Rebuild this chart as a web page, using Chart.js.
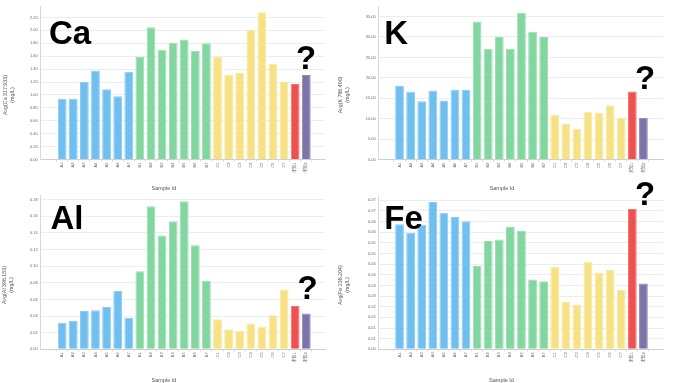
<!DOCTYPE html>
<html>
<head>
<meta charset="utf-8">
<script src="https://cdn.jsdelivr.net/npm/chart.js@4/dist/chart.umd.min.js"></script>
<style>
  html, body { margin: 0; padding: 0; background: #fff; }
  #wrap { position: relative; width: 680px; height: 383px; overflow: hidden; background: #fff; }
  canvas { position: absolute; }
  .big { position: absolute; font-family: 'Liberation Sans', Arial, sans-serif; font-weight: bold;
         font-size: 33px; line-height: 33px; color: #000; white-space: nowrap; z-index: 5; }
  .ytitle { position: absolute; font-family: 'Liberation Sans', 'Noto Sans CJK JP', sans-serif; font-size: 5.3px;
            line-height: 6.8px; color: #555; white-space: nowrap; text-align: center;
            transform: translate(-50%, -50%) rotate(-90deg); }
  .xtitle { position: absolute; font-family: 'Liberation Sans', sans-serif; font-size: 5.5px; line-height: 6px;
            color: #555; white-space: nowrap; transform: translate(-50%, -50%); }
</style>
</head>
<body>
<div id="wrap"></div>
<script>
// ---- data ----
const sampleIds = ['A1','A2','A3','A4','A5','A6','A7',
                   'B1','B2','B3','B4','B5','B6','B7',
                   'C1','C2','C3','C4','C5','C6','C7',
                   '未知1','未知2'];
const sampleGroups = ['A','A','A','A','A','A','A',
                      'B','B','B','B','B','B','B',
                      'C','C','C','C','C','C','C',
                      'U1','U2'];

const caValues = [0.94,0.94,1.20,1.38,1.09,0.98,1.36,
                  1.59,2.05,1.70,1.81,1.86,1.68,1.80,
                  1.59,1.31,1.34,2.01,2.28,1.48,1.20,
                  1.17,1.31];
const kValues  = [18.0,16.6,14.3,16.9,14.5,17.1,17.1,
                  33.8,27.1,30.0,27.1,35.9,31.3,30.0,
                  11.0,8.8,7.5,11.7,11.4,13.3,10.2,
                  16.7,10.2];
const alValues = [0.032,0.034,0.046,0.047,0.051,0.070,0.038,
                  0.094,0.172,0.137,0.154,0.178,0.125,0.082,
                  0.036,0.024,0.022,0.031,0.027,0.041,0.072,
                  0.052,0.043];
const feValues = [0.0588,0.0548,0.0585,0.0692,0.0642,0.0622,0.0602,
                  0.0391,0.0509,0.0516,0.0575,0.0556,0.0328,0.0320,
                  0.0388,0.0223,0.0208,0.0411,0.0359,0.0372,0.0280,
                  0.0659,0.0309];

const caTickLabels = ['0.00','0.20','0.40','0.60','0.80','1.00','1.20','1.40','1.60','1.80','2.00','2.20'];
const kTickLabels  = ['0.00','5.00','10.00','15.00','20.00','25.00','30.00','35.00'];
const alTickLabels = ['0.00','0.02','0.04','0.06','0.08','0.10','0.12','0.14','0.16','0.18'];
const feTickValues = [0,0.005,0.01,0.015,0.02,0.025,0.03,0.035,0.04,0.045,0.05,0.055,0.06,0.065,0.07];
const feTickLabels = ['0.00','0.01','0.01','0.02','0.02','0.03','0.03','0.04','0.04','0.05','0.05','0.06','0.06','0.07','0.07'];

const yTitles = ['Avg(Ca 317.933)', 'Avg(K 766.490)', 'Avg(Al 396.153)', 'Avg(Fe 238.204)'];
const yUnit = '(mg/L)';
const xTitle = 'Sample Id';

// ---- styles ----
const groupFill = { A: '#6fbff1', B: '#82d69f', C: '#f6e285', U1: '#ef5151', U2: '#8073a8' };
const groupBorder = { A: '#8ccdf5', B: '#9ddfb3', C: '#f9ea9f', U1: '#f37474', U2: '#978bba' };

const wrap = document.getElementById('wrap');

function addDiv(cls, text, left, top) {
  const d = document.createElement('div');
  d.className = cls;
  d.innerHTML = text;
  d.style.left = left + 'px';
  d.style.top = top + 'px';
  wrap.appendChild(d);
  return d;
}

function makePanel(p) {
  const cv = document.createElement('canvas');
  cv.width = p.w; cv.height = p.h;
  cv.style.left = p.ox + 'px'; cv.style.top = p.oy + 'px';
  cv.style.width = p.w + 'px'; cv.style.height = p.h + 'px';
  wrap.appendChild(cv);
  const pitch = p.pitch;
  const xMin = -(p.firstCenter - p.l) / pitch;
  const xMax = xMin + (p.r - p.l) / pitch;
  const data = p.values.map((v, i) => ({ x: i, y: v }));
  new Chart(cv.getContext('2d'), {
    type: 'bar',
    data: {
      datasets: [{
        data: data,
        backgroundColor: sampleGroups.map(g => groupFill[g]),
        borderColor: sampleGroups.map(g => groupBorder[g]),
        borderWidth: 1,
        barPercentage: 0.79,
        categoryPercentage: 1.0
      }]
    },
    options: {
      responsive: false,
      animation: false,
      devicePixelRatio: 1,
      layout: { padding: { left: 0, top: p.t, right: p.w - p.r, bottom: 0 } },
      plugins: { legend: { display: false }, tooltip: { enabled: false } },
      scales: {
        x: {
          type: 'linear',
          min: xMin, max: xMax,
          afterBuildTicks: s => { s.ticks = sampleIds.map((_, i) => ({ value: i })); },
          afterFit: s => { s.height = p.h - p.b; },
          ticks: {
            autoSkip: false, minRotation: 90, maxRotation: 90, padding: 1,
            font: { family: "'Liberation Sans', 'Noto Sans CJK JP', sans-serif", size: 4 },
            color: '#666',
            callback: v => sampleIds[v]
          },
          grid: { display: true, drawOnChartArea: false, tickLength: 2, color: '#d6d6d6' },
          border: { display: true, color: '#d0d0d0' }
        },
        y: {
          type: 'linear',
          min: 0, max: p.yMax,
          afterBuildTicks: s => { s.ticks = p.tickValues.map(v => ({ value: v })); },
          afterFit: s => { s.width = p.l; },
          ticks: {
            padding: 3,
            font: { family: "'Liberation Sans', sans-serif", size: 4 },
            color: '#666',
            callback: (v, i) => p.tickLabels[i]
          },
          grid: { color: '#ededed', drawTicks: false },
          border: { display: true, color: '#d8d8d8' }
        }
      }
    }
  });
  addDiv('ytitle', p.yTitle + '<br>' + yUnit, p.ox + p.ytx, p.oy + p.yty);
  addDiv('xtitle', xTitle, p.ox + p.xtx, p.oy + p.xty);
}

makePanel({ ox: 0, oy: 0, w: 340, h: 190, l: 40.7, r: 325, t: 6.5, b: 159.5,
  firstCenter: 56.7, pitch: 11.6, yMax: 2.37,
  values: caValues, tickValues: caTickLabels.map(parseFloat), tickLabels: caTickLabels,
  yTitle: yTitles[0], ytx: 8.7, yty: 95, xtx: 164, xty: 188 });

makePanel({ ox: 340, oy: 0, w: 340, h: 190, l: 38.7, r: 323.3, t: 6, b: 159.7,
  firstCenter: 54, pitch: 11.59, yMax: 37.57,
  values: kValues, tickValues: kTickLabels.map(parseFloat), tickLabels: kTickLabels,
  yTitle: yTitles[1], ytx: 4.2, yty: 95, xtx: 162, xty: 188 });

makePanel({ ox: 0, oy: 190, w: 340, h: 193, l: 40.7, r: 325, t: 5, b: 159.3,
  firstCenter: 56.7, pitch: 11.6, yMax: 0.1851,
  values: alValues, tickValues: alTickLabels.map(parseFloat), tickLabels: alTickLabels,
  yTitle: yTitles[2], ytx: 8.2, yty: 95, xtx: 164, xty: 189.5 });

makePanel({ ox: 340, oy: 190, w: 340, h: 193, l: 38.7, r: 323.3, t: 5, b: 159.3,
  firstCenter: 54, pitch: 11.59, yMax: 0.0723,
  values: feValues, tickValues: feTickValues, tickLabels: feTickLabels,
  yTitle: yTitles[3], ytx: 4.2, yty: 95, xtx: 161.5, xty: 189.5 });

// big overlay annotations
addDiv('big', 'Ca', 49, 15.7);
addDiv('big', '?', 296, 40.7);
addDiv('big', 'K', 384.3, 15.7);
addDiv('big', '?', 635, 60.7);
addDiv('big', 'Al', 50.5, 200.7);
addDiv('big', '?', 297.5, 270.7);
addDiv('big', 'Fe', 384.3, 200.7);
addDiv('big', '?', 635, 177.4);
</script>
</body>
</html>
